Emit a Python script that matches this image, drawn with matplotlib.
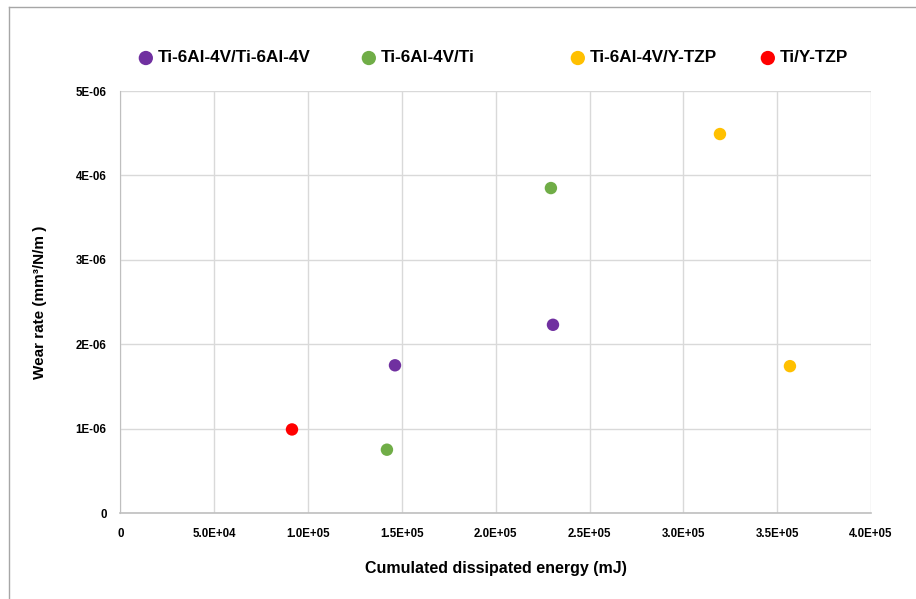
import matplotlib

matplotlib.use("Agg")
import matplotlib.pyplot as plt
from matplotlib.lines import Line2D

# data
series_names = ["Ti-6Al-4V/Ti-6Al-4V", "Ti-6Al-4V/Ti", "Ti-6Al-4V/Y-TZP", "Ti/Y-TZP"]
series_colors = ["#7030A0", "#70AD47", "#FFC000", "#FF0000"]
energy = [
    [146300, 230500],
    [142000, 229400],
    [319500, 356800],
    [91400],
]
wear_rate = [
    [1.75e-6, 2.23e-6],
    [0.75e-6, 3.85e-6],
    [4.49e-6, 1.74e-6],
    [0.99e-6],
]

x_ticks = [0, 5e4, 1e5, 1.5e5, 2e5, 2.5e5, 3e5, 3.5e5, 4e5]
x_tick_labels = ["0", "5.0E+04", "1.0E+05", "1.5E+05", "2.0E+05",
                 "2.5E+05", "3.0E+05", "3.5E+05", "4.0E+05"]
y_ticks = [0, 1e-6, 2e-6, 3e-6, 4e-6, 5e-6]
y_tick_labels = ["0", "1E-06", "2E-06", "3E-06", "4E-06", "5E-06"]

plt.rcParams["font.family"] = ["Liberation Sans", "DejaVu Sans"]

W, H = 916, 599
fig = plt.figure(figsize=(W / 100, H / 100), dpi=100)
ax = fig.add_axes([120.5 / W, 1 - 513 / H, 750.5 / W, 422 / H])

handles = []
for name, color, xs, ys in zip(series_names, series_colors, energy, wear_rate):
    h = ax.scatter(xs, ys, s=80, color=color, edgecolors="none", zorder=3, label=name)
    handles.append(h)

ax.set_xlim(0, 4e5)
ax.set_ylim(0, 5e-6)
ax.set_xticks(x_ticks)
ax.set_xticklabels(x_tick_labels, fontsize=8.3, fontweight="bold")
ax.set_yticks(y_ticks)
ax.set_yticklabels(y_tick_labels, fontsize=8.3, fontweight="bold")
ax.tick_params(axis="y", length=0, pad=10)
ax.tick_params(axis="x", length=0, pad=11)

ax.grid(True, color="#D9D9D9", linewidth=1)
ax.set_axisbelow(True)
for side in ["top", "right"]:
    ax.spines[side].set_visible(False)
ax.spines["left"].set_color("#BFBFBF")
ax.spines["bottom"].set_color("#BFBFBF")
ax.spines["bottom"].set_linewidth(1.2)

ax.set_xlabel("Cumulated dissipated energy (mJ)", fontsize=11.5, fontweight="bold")
ax.set_ylabel("Wear rate (mm³/N/m )", fontsize=11, fontweight="bold")
ax.xaxis.set_label_coords(0.5, -0.114)
ax.yaxis.set_label_coords(-0.098, 0.5)

# one legend box per entry, spaced like the original
legend_x = [139, 362, 571, 761]
for h, name, lx in zip(handles, series_names, legend_x):
    fig.legend(
        handles=[h], labels=[name], loc="center left",
        bbox_to_anchor=(lx / W, 1 - 58 / H), frameon=False,
        prop={"size": 12.3, "weight": "bold"},
        handletextpad=0.3, borderaxespad=0, borderpad=0,
        handlelength=0.8, markerscale=1.15,
    )

# chart frame (only top and left edges visible)
fig.add_artist(Line2D([9 / W, 9 / W], [0, 1 - 7 / H], color="#A6A6A6", lw=1))
fig.add_artist(Line2D([9 / W, 1], [1 - 7 / H, 1 - 7 / H], color="#A6A6A6", lw=1))

fig.savefig("out.png", dpi=100)
